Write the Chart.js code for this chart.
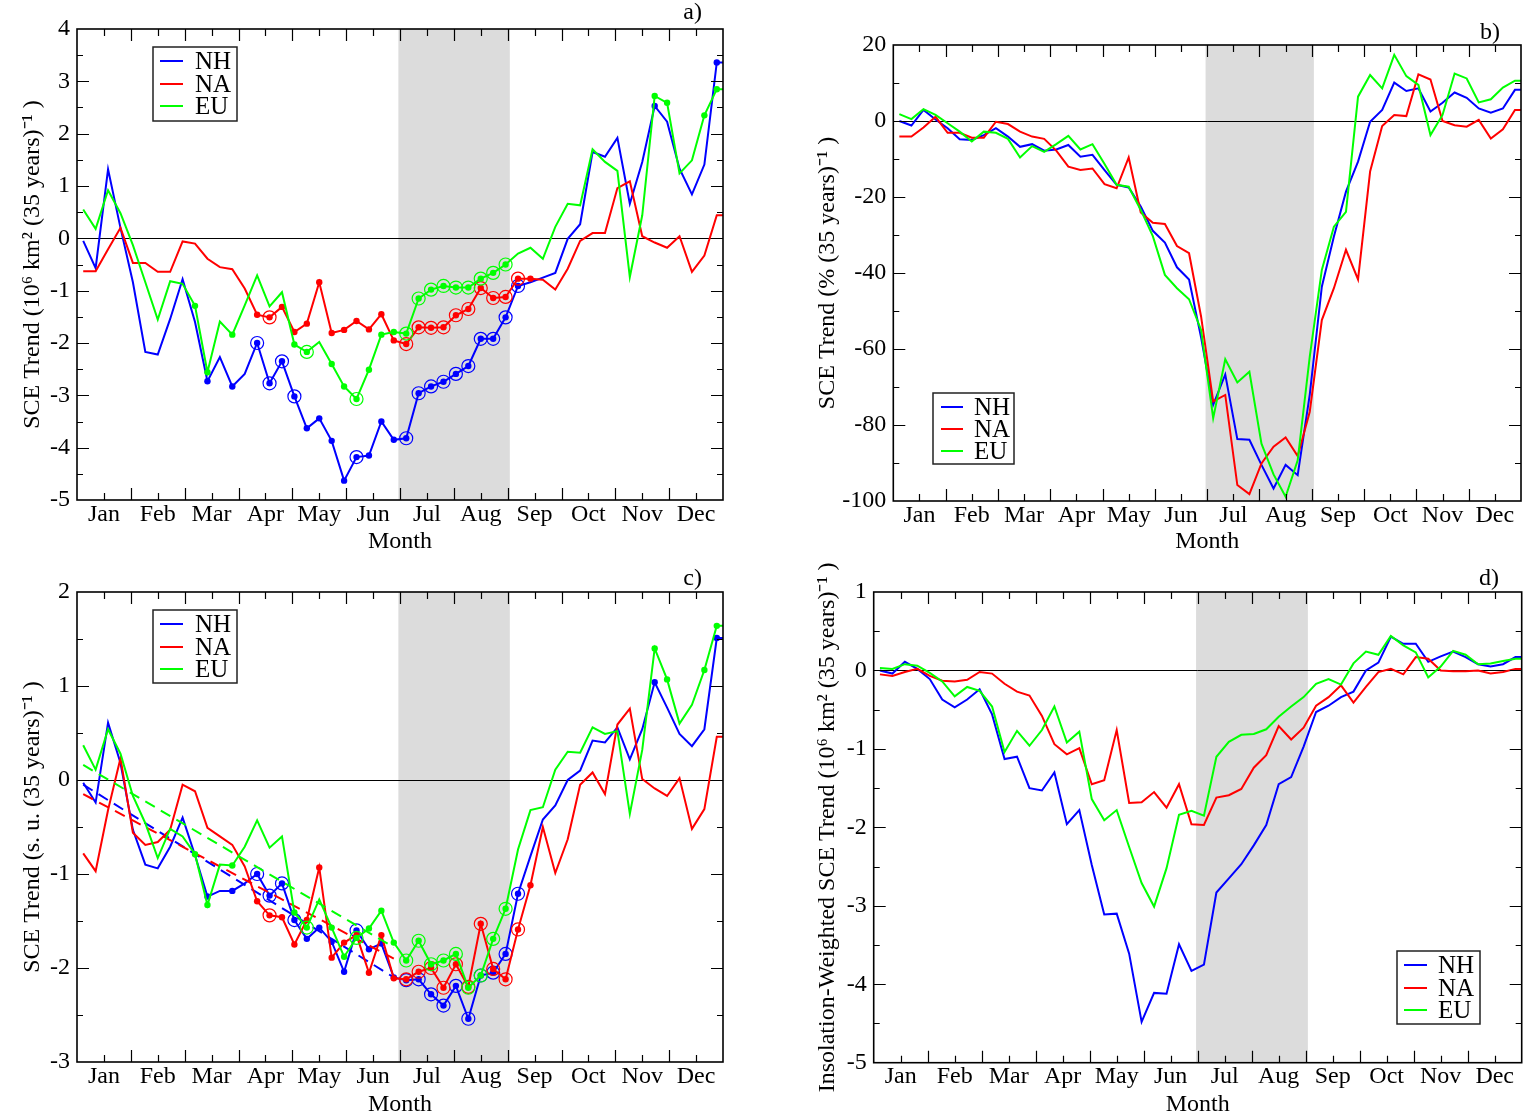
<!DOCTYPE html>
<html><head><meta charset="utf-8">
<script src="https://cdn.jsdelivr.net/npm/chart.js@4.4.0/dist/chart.umd.min.js"></script>
<style>
html,body{margin:0;padding:0;background:#fff;width:1532px;height:1120px;overflow:hidden}
.p{position:absolute;width:766px;height:560px}
canvas{display:block}
</style></head><body>
<div class="p" style="left:0;top:0"><canvas id="ca" width="766" height="560"></canvas></div>
<div class="p" style="left:766px;top:0"><canvas id="cb" width="766" height="560"></canvas></div>
<div class="p" style="left:0;top:560px"><canvas id="cc" width="766" height="560"></canvas></div>
<div class="p" style="left:766px;top:560px"><canvas id="cd" width="766" height="560"></canvas></div>
<script>
// ---------- categories / labels ----------
const months = ['Jan','Feb','Mar','Apr','May','Jun','Jul','Aug','Sep','Oct','Nov','Dec'];
const regions = ['NH','NA','EU'];
const shadeMonths = [5.97, 8.04];   // Jul-Aug shaded
const nWeeks = 52;

// ---------- panel a: SCE trend (10^6 km^2 per 35 yr) ----------
const nhA = [-0.05,-0.57,1.32,0.20,-0.84,-2.17,-2.22,-1.54,-0.78,-1.60,
 -2.73,-2.27,-2.83,-2.59,-2.00,-2.77,-2.35,-3.02,-3.63,-3.44,
 -3.87,-4.63,-4.18,-4.15,-3.50,-3.85,-3.82,-2.96,-2.83,-2.74,
 -2.59,-2.44,-1.92,-1.92,-1.51,-0.91,-0.84,-0.75,-0.66,-0.01,
 0.27,1.65,1.56,1.92,0.66,1.46,2.53,2.23,1.33,0.84,
 1.41,3.36];
const naA = [-0.63,-0.63,-0.21,0.20,-0.47,-0.47,-0.64,-0.64,-0.06,-0.10,
 -0.39,-0.55,-0.59,-0.96,-1.46,-1.51,-1.31,-1.79,-1.63,-0.84,
 -1.81,-1.75,-1.58,-1.74,-1.45,-1.95,-2.02,-1.70,-1.71,-1.70,
 -1.47,-1.35,-0.95,-1.14,-1.12,-0.77,-0.77,-0.79,-0.98,-0.58,
 -0.05,0.10,0.10,0.96,1.09,0.04,-0.08,-0.18,0.04,-0.64,
 -0.33,0.44];
const euA = [0.55,0.18,0.92,0.48,-0.13,-0.84,-1.55,-0.82,-0.87,-1.29,
 -2.56,-1.59,-1.84,-1.28,-0.71,-1.30,-1.03,-2.03,-2.17,-1.98,
 -2.40,-2.83,-3.07,-2.51,-1.84,-1.79,-1.82,-1.15,-0.98,-0.91,
 -0.94,-0.94,-0.77,-0.66,-0.50,-0.29,-0.18,-0.39,0.22,0.66,
 0.63,1.70,1.46,1.29,-0.74,0.44,2.72,2.59,1.24,1.49,
 2.35,2.85];

// ---------- panel b: SCE trend (% per 35 yr) ----------
const nhB = [0.0,-1.2,2.9,0.4,-1.9,-4.8,-5.0,-3.7,-1.9,-4.1,
 -6.8,-6.1,-7.8,-7.5,-6.3,-9.4,-8.9,-12.9,-16.8,-17.5,
 -22.5,-28.9,-32.0,-38.5,-41.7,-57.0,-74.7,-66.7,-83.7,-83.9,
 -90.5,-96.7,-90.5,-93.2,-72.0,-43.6,-30.4,-18.6,-10.7,-0.2,
 2.9,10.1,7.9,8.6,2.5,4.8,7.5,6.1,3.3,2.2,
 3.3,8.2];
const naB = [-4.1,-4.1,-1.7,1.1,-3.1,-3.1,-4.4,-4.4,-0.2,-0.8,
 -2.8,-4.1,-4.7,-7.8,-12.0,-12.9,-12.5,-16.6,-17.7,-9.6,
 -24.1,-26.8,-27.1,-32.9,-34.8,-51.5,-73.8,-72.1,-95.8,-98.2,
 -90.1,-85.7,-83.3,-88.2,-76.5,-52.4,-44.0,-33.9,-41.7,-13.3,
 -1.3,1.6,1.3,12.3,10.9,0.0,-1.1,-1.5,0.3,-4.6,
 -2.2,2.9];
const euB = [1.8,0.5,3.1,1.6,-0.6,-2.8,-5.4,-2.8,-3.1,-4.7,
 -9.6,-6.6,-8.1,-6.1,-3.9,-7.5,-6.1,-11.3,-16.8,-17.3,
 -23.4,-30.3,-40.5,-44.0,-46.9,-55.0,-78.2,-62.7,-68.8,-66.0,
 -84.9,-93.0,-98.9,-89.3,-62.0,-39.2,-27.8,-23.9,6.4,12.1,
 8.6,17.4,11.8,9.5,-3.7,1.6,12.5,11.2,4.9,5.7,
 8.8,10.6];

// ---------- panel c: SCE trend (standardized units per 35 yr) ----------
const nhC = [-0.03,-0.24,0.61,0.18,-0.53,-0.90,-0.94,-0.71,-0.40,-0.80,
 -1.24,-1.18,-1.18,-1.10,-1.00,-1.23,-1.10,-1.49,-1.69,-1.57,
 -1.72,-2.04,-1.60,-1.80,-1.74,-2.10,-2.13,-2.12,-2.28,-2.40,
 -2.19,-2.54,-2.08,-2.05,-1.85,-1.21,-0.81,-0.42,-0.27,0.00,
 0.10,0.42,0.40,0.56,0.22,0.54,1.04,0.77,0.49,0.36,
 0.54,1.51];
const naC = [-0.78,-0.97,-0.32,0.23,-0.56,-0.69,-0.66,-0.53,-0.05,-0.12,
 -0.51,-0.60,-0.69,-0.92,-1.29,-1.44,-1.46,-1.75,-1.49,-0.93,
 -1.89,-1.73,-1.65,-2.05,-1.65,-2.11,-2.12,-2.04,-2.00,-2.21,
 -1.96,-2.20,-1.53,-2.01,-2.12,-1.59,-1.12,-0.50,-0.99,-0.63,
 -0.05,0.08,-0.15,0.59,0.76,0.01,-0.09,-0.17,0.02,-0.52,
 -0.31,0.46];
const euC = [0.37,0.11,0.54,0.28,-0.17,-0.46,-0.83,-0.52,-0.60,-0.79,
 -1.33,-0.90,-0.91,-0.71,-0.43,-0.72,-0.60,-1.41,-1.57,-1.27,
 -1.57,-1.88,-1.68,-1.58,-1.39,-1.73,-1.92,-1.71,-1.96,-1.92,
 -1.85,-2.21,-2.08,-1.69,-1.37,-0.74,-0.32,-0.29,0.11,0.30,
 0.29,0.56,0.49,0.52,-0.36,0.32,1.40,1.07,0.60,0.80,
 1.17,1.64];
// dashed linear trends in panel c (value at first and last week)
const trendWeeks = [0, 25];
const nhTrendC = [-0.05, -2.10];
const naTrendC = [-0.15, -1.90];
const euTrendC = [0.16, -1.78];

// ---------- panel d: insolation-weighted SCE trend ----------
const nhD = [0.00,-0.04,0.11,0.02,-0.11,-0.37,-0.47,-0.37,-0.24,-0.56,
 -1.13,-1.10,-1.50,-1.53,-1.30,-1.96,-1.78,-2.48,-3.11,-3.10,
 -3.61,-4.48,-4.11,-4.12,-3.49,-3.83,-3.75,-2.83,-2.65,-2.47,
 -2.23,-1.97,-1.45,-1.36,-0.97,-0.53,-0.45,-0.34,-0.27,0.00,
 0.10,0.43,0.34,0.34,0.11,0.18,0.24,0.17,0.08,0.05,
 0.08,0.17];
const naD = [-0.05,-0.07,-0.02,0.02,-0.07,-0.13,-0.14,-0.12,-0.02,-0.04,
 -0.17,-0.27,-0.32,-0.58,-0.94,-1.07,-0.99,-1.45,-1.40,-0.76,
 -1.69,-1.68,-1.55,-1.75,-1.45,-1.96,-1.97,-1.62,-1.59,-1.51,
 -1.24,-1.08,-0.71,-0.88,-0.73,-0.45,-0.34,-0.19,-0.41,-0.21,
 -0.02,0.02,-0.05,0.17,0.15,0.00,-0.01,-0.01,0.00,-0.04,
 -0.02,0.02];
const euD = [0.03,0.02,0.08,0.06,-0.03,-0.14,-0.33,-0.21,-0.26,-0.46,
 -1.04,-0.77,-0.96,-0.76,-0.46,-0.92,-0.78,-1.64,-1.91,-1.78,
 -2.25,-2.71,-3.01,-2.52,-1.84,-1.79,-1.85,-1.10,-0.91,-0.82,
 -0.81,-0.75,-0.59,-0.46,-0.34,-0.17,-0.11,-0.18,0.09,0.24,
 0.20,0.44,0.32,0.23,-0.09,0.05,0.25,0.20,0.08,0.09,
 0.12,0.15];

// ---------- significance markers (week indices), panels a and c ----------
const nhDots  = [10,12,18,19,20,21,23,24,25,46,51];
const nhRings = [14,15,16,17,22,26,27,28,29,30,31,32,33,34,35];
const naDots  = [14,16,17,18,19,20,21,22,23,24,25,36];
const naRings = [15,26,27,28,29,30,31,32,33,34,35];
const euDots  = [9,10,12,17,20,21,23,24,25,46,47,50,51];
const euRings = [18,22,26,27,28,29,30,31,32,33,34];

// ---------- rendering ----------
const FAM = "'Liberation Serif','Times New Roman',serif";
const FS = 24;
const colors = ['#0000ff','#ff0000','#00ff00'];
Chart.defaults.font.family = FAM;
Chart.defaults.color = '#000';
const weekX = i => (i + 0.5) * 12 / nWeeks;

const decor = {
  id: 'decor',
  beforeDatasetsDraw(chart) {
    const {ctx, chartArea: a} = chart;
    const xs = chart.scales.x, ys = chart.scales.y;
    ctx.save();
    const x0 = xs.getPixelForValue(shadeMonths[0]), x1 = xs.getPixelForValue(shadeMonths[1]);
    ctx.fillStyle = '#dcdcdc';
    ctx.fillRect(x0, a.top, x1 - x0, a.bottom - a.top);
    const yz = Math.round(ys.getPixelForValue(0)) + 0.5;
    ctx.strokeStyle = '#000'; ctx.lineWidth = 1;
    ctx.beginPath(); ctx.moveTo(a.left, yz); ctx.lineTo(a.right, yz); ctx.stroke();
    ctx.restore();
  },
  afterDraw(chart) {
    const o = chart.options.plugins.decor;
    const {ctx, chartArea: a} = chart;
    const xs = chart.scales.x, ys = chart.scales.y;
    ctx.save();
    ctx.strokeStyle = '#000'; ctx.lineWidth = 1.2;
    ctx.beginPath();
    for (let k = 1; k < 24; k++) {
      const px = Math.round(xs.getPixelForValue(k / 2)) + 0.5;
      const len = k % 2 === 0 ? 12 : 7;
      ctx.moveTo(px, a.bottom); ctx.lineTo(px, a.bottom - len);
      ctx.moveTo(px, a.top); ctx.lineTo(px, a.top + len);
    }
    const n = Math.round((o.yMax - o.yMin) / o.yMinor);
    for (let k = 1; k < n; k++) {
      const v = o.yMin + k * o.yMinor;
      const py = Math.round(ys.getPixelForValue(v)) + 0.5;
      const r = v / o.yMajor;
      const len = Math.abs(r - Math.round(r)) < 1e-6 ? 12 : 6;
      ctx.moveTo(a.left, py); ctx.lineTo(a.left + len, py);
      ctx.moveTo(a.right, py); ctx.lineTo(a.right - len, py);
    }
    ctx.stroke();
    ctx.lineWidth = 1.6;
    ctx.strokeRect(a.left, a.top, a.right - a.left, a.bottom - a.top);
    // legend
    const L = o.legend;
    ctx.fillStyle = '#fff';
    ctx.fillRect(L.x, L.y, L.w, L.h);
    ctx.strokeStyle = '#222'; ctx.lineWidth = 1.5;
    ctx.strokeRect(L.x, L.y, L.w, L.h);
    ctx.font = L.font + 'px ' + FAM;
    ctx.textBaseline = 'middle'; ctx.textAlign = 'left'; ctx.fillStyle = '#000';
    regions.forEach((r, i) => {
      const ry = L.rows[i];
      ctx.strokeStyle = colors[i]; ctx.lineWidth = 2;
      ctx.beginPath(); ctx.moveTo(L.lx0, ry); ctx.lineTo(L.lx1, ry); ctx.stroke();
      ctx.fillText(r, L.tx, ry + 1);
    });
    // panel label
    ctx.textAlign = 'right'; ctx.textBaseline = 'alphabetic';
    ctx.font = FS + 'px ' + FAM;
    ctx.fillText(o.label, o.labelX, o.labelY);
    ctx.restore();
  }
};

function makePanel(id, P) {
  const datasets = [];
  P.series.forEach((arr, s) => {
    const dots = P.dots ? P.dots[s] : [];
    const rings = P.rings ? P.rings[s] : [];
    const pts = arr.map((v, i) => ({x: weekX(i), y: v}));
    // the last weekly value is held flat to the right frame
    pts.push({x: 12, y: arr[arr.length - 1]});
    datasets.push({
      label: regions[s],
      data: pts,
      borderColor: colors[s], backgroundColor: colors[s],
      borderWidth: 2, tension: 0, fill: false,
      pointRadius: pts.map((p, i) => (dots.includes(i) || rings.includes(i)) ? 3.2 : 0),
      pointBackgroundColor: colors[s], pointBorderWidth: 0,
      order: 10 - s * 3
    });
    if (rings.length) {
      datasets.push({
        label: regions[s] + ' ring',
        data: rings.map(i => ({x: weekX(i), y: arr[i]})),
        showLine: false, pointRadius: 6.5, pointBorderWidth: 1.2,
        pointBorderColor: colors[s], pointBackgroundColor: 'rgba(0,0,0,0)',
        order: 9 - s * 3
      });
    }
    if (P.trends) {
      const t = P.trends[s];
      datasets.push({
        label: regions[s] + ' trend',
        data: trendWeeks.map((w, j) => ({x: weekX(w), y: t[j]})),
        borderColor: colors[s], borderWidth: 2, borderDash: [11, 7],
        pointRadius: 0, fill: false, order: 8 - s * 3
      });
    }
  });
  const yTicks = [];
  for (let v = P.yMin; v <= P.yMax + 1e-9; v += P.yMajor) yTicks.push({value: Math.round(v * 1000) / 1000});
  return new Chart(document.getElementById(id), {
    type: 'line',
    data: {datasets},
    options: {
      responsive: false, animation: false, devicePixelRatio: 1,
      layout: {padding: P.pad},
      plugins: {
        legend: {display: false}, tooltip: {enabled: false},
        decor: {yMin: P.yMin, yMax: P.yMax, yMajor: P.yMajor, yMinor: P.yMinor,
                legend: P.legend, label: P.label, labelX: P.labelX, labelY: P.labelY}
      },
      scales: {
        x: {
          type: 'linear', min: 0, max: 12,
          afterFit(s) { s.height = P.xH; },
          afterBuildTicks(s) { s.ticks = months.map((m, k) => ({value: k + 0.5})); },
          ticks: {autoSkip: false, maxRotation: 0, padding: 0, font: {size: FS},
                  callback: (v, i) => months[i]},
          grid: {display: false, drawTicks: false},
          border: {display: false},
          title: {display: true, text: 'Month', font: {size: FS},
                  padding: {top: 0, bottom: 560 - FS * 0.6 - P.xTitleY}}
        },
        y: {
          type: 'linear', min: P.yMin, max: P.yMax,
          afterFit(s) { s.width = P.yW; },
          afterBuildTicks(s) { s.ticks = yTicks.map(t => ({value: t.value})); },
          ticks: {padding: 7, font: {size: FS}, callback: v => String(v)},
          grid: {display: false, drawTicks: false},
          border: {display: false},
          title: {display: true, text: P.yTitle, font: {size: FS},
                  padding: {top: P.yTitleX - FS * 0.6, bottom: 0}}
        }
      }
    },
    plugins: [decor]
  });
}

makePanel('ca', {
  series: [nhA, naA, euA], dots: [nhDots, naDots, euDots], rings: [nhRings, naRings, euRings],
  yMin: -5, yMax: 4, yMajor: 1, yMinor: 0.5,
  pad: {left: 0, right: 43, top: 29, bottom: 0}, yW: 77, xH: 60, yTitleX: 33, xTitleY: 542,
  yTitle: 'SCE Trend (10\u2076 km\u00B2 (35 years)\u207B\u00B9 )',
  legend: {x: 153, y: 47, w: 84, h: 74, lx0: 160, lx1: 183, tx: 195, rows: [61, 84, 106], font: 25},
  label: 'a)', labelX: 702, labelY: 19
});
makePanel('cb', {
  series: [nhB, naB, euB],
  yMin: -100, yMax: 20, yMajor: 20, yMinor: 10,
  pad: {left: 0, right: 11, top: 45, bottom: 0}, yW: 127.3, xH: 59, yTitleX: 62, xTitleY: 542,
  yTitle: 'SCE Trend (% (35 years)\u207B\u00B9 )',
  legend: {x: 167, y: 393, w: 81, h: 71, lx0: 175, lx1: 197, tx: 208, rows: [407, 429, 451], font: 25},
  label: 'b)', labelX: 734, labelY: 39
});
makePanel('cc', {
  series: [nhC, naC, euC], dots: [nhDots, naDots, euDots], rings: [nhRings, naRings, euRings],
  trends: [nhTrendC, naTrendC, euTrendC],
  yMin: -3, yMax: 2, yMajor: 1, yMinor: 0.5,
  pad: {left: 0, right: 43, top: 32, bottom: 0}, yW: 77, xH: 58, yTitleX: 33, xTitleY: 545,
  yTitle: 'SCE Trend (s. u. (35 years)\u207B\u00B9 )',
  legend: {x: 153, y: 50, w: 84, h: 73, lx0: 160, lx1: 183, tx: 195, rows: [64, 87, 109], font: 25},
  label: 'c)', labelX: 702, labelY: 25
});
makePanel('cd', {
  series: [nhD, naD, euD],
  yMin: -5, yMax: 1, yMajor: 1, yMinor: 0.5,
  pad: {left: 0, right: 10.3, top: 32, bottom: 0}, yW: 107.7, xH: 57.3, yTitleX: 62, xTitleY: 545,
  yTitle: 'Insolation-Weighted SCE Trend (10\u2076 km\u00B2 (35 years)\u207B\u00B9 )',
  legend: {x: 631, y: 391, w: 83, h: 73, lx0: 638, lx1: 661, tx: 672, rows: [405, 428, 450], font: 25},
  label: 'd)', labelX: 733, labelY: 25
});
</script>
</body></html>
